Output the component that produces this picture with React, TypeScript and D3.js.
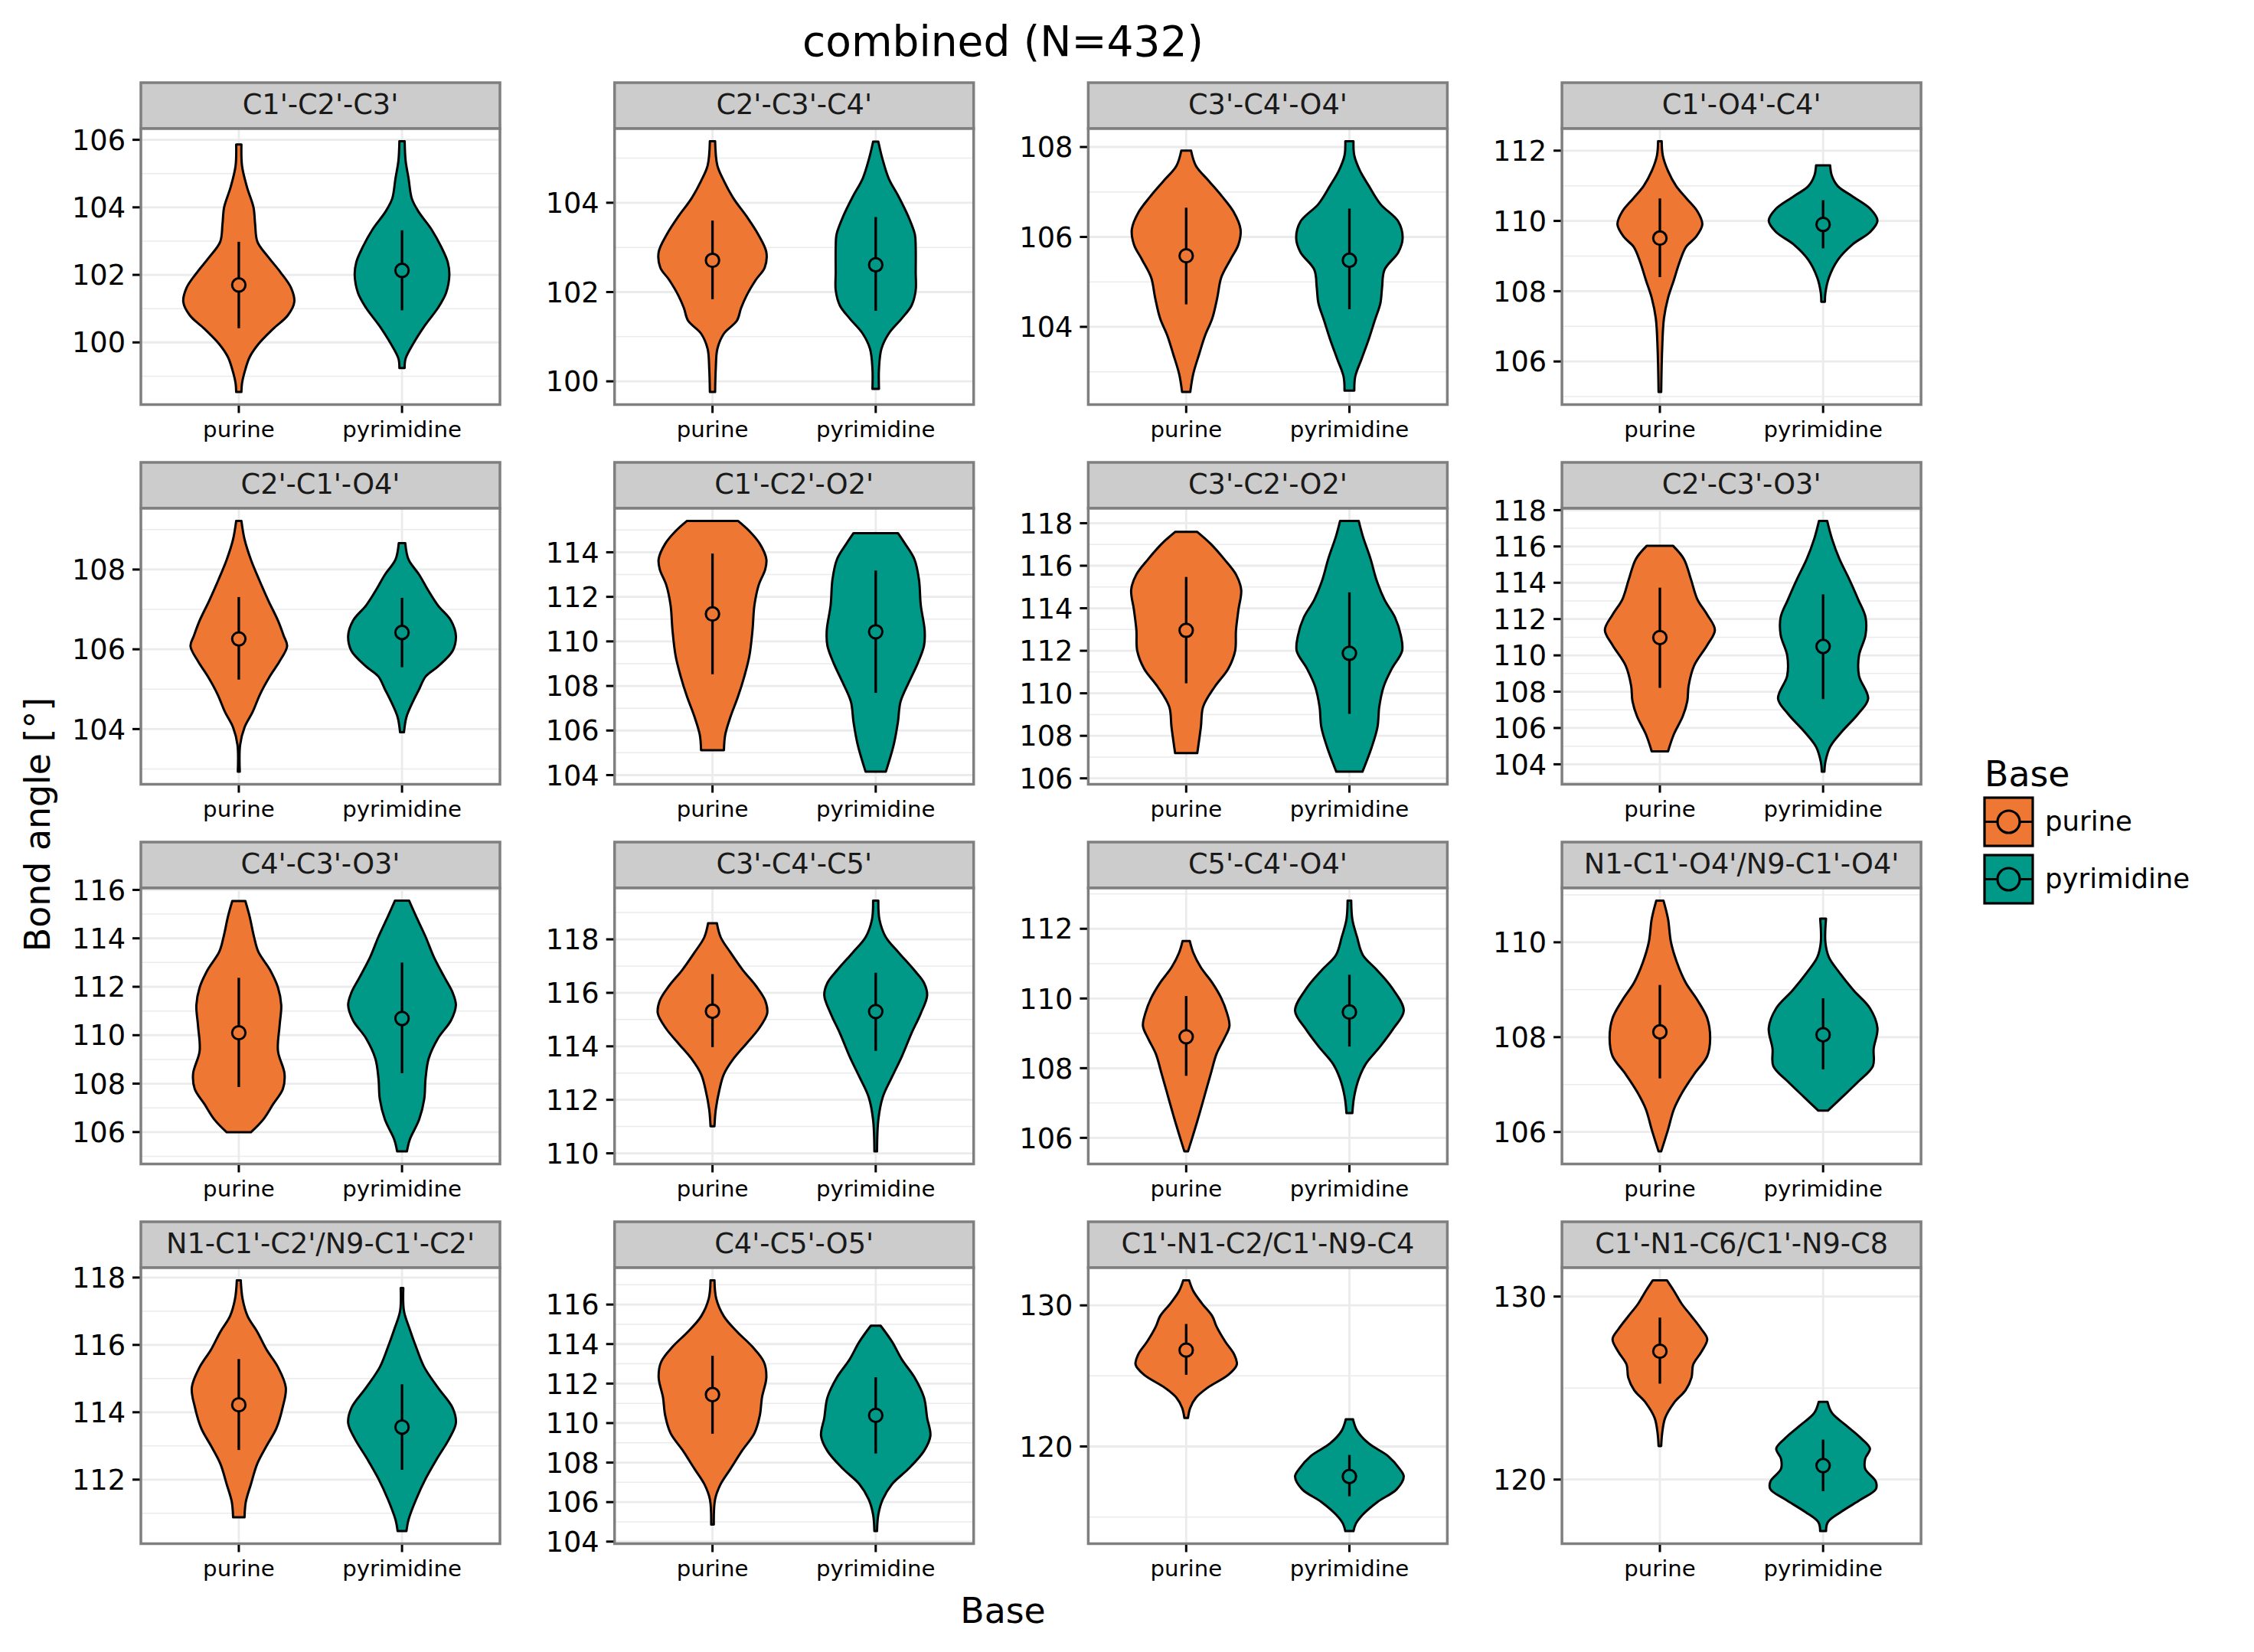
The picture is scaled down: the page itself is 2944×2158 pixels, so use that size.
import * as d3 from 'd3';

// facet titles, row by row
var PANELS = [
  "C1'-C2'-C3'", "C2'-C3'-C4'", "C3'-C4'-O4'", "C1'-O4'-C4'",
  "C2'-C1'-O4'", "C1'-C2'-O2'", "C3'-C2'-O2'", "C2'-C3'-O3'",
  "C4'-C3'-O3'", "C3'-C4'-C5'", "C5'-C4'-O4'", "N1-C1'-O4'/N9-C1'-O4'",
  "N1-C1'-C2'/N9-C1'-C2'", "C4'-C5'-O5'", "C1'-N1-C2/C1'-N9-C4", "C1'-N1-C6/C1'-N9-C8"
];

var BASES = ['purine', 'pyrimidine'];
var COLORS = ['#EE7733', '#009988'];

var TICKS = [
  [100, 102, 104, 106], [100, 102, 104], [104, 106, 108], [106, 108, 110, 112],
  [104, 106, 108], [104, 106, 108, 110, 112, 114], [106, 108, 110, 112, 114, 116, 118], [104, 106, 108, 110, 112, 114, 116, 118],
  [106, 108, 110, 112, 114, 116], [110, 112, 114, 116, 118], [106, 108, 110, 112], [106, 108, 110],
  [112, 114, 116, 118], [104, 106, 108, 110, 112, 114, 116], [120, 130], [120, 130]
];

// violin outlines: [angle, half width as a fraction of the category step]
var PURINE_VIOLINS = [
  [[105.86, .016], [105.22, .02], [104.6, .05], [104.0, .09], [103.5, .10], [102.98, .114], [102.53, .18], [102.08, .255], [101.62, .32], [101.2, .34], [100.8, .30], [100.4, .21], [99.95, .12], [99.57, .067], [99.2, .04], [98.8, .02], [98.53, .016]],
  [[105.38, .016], [104.83, .03], [104.49, .07], [104.09, .13], [103.69, .21], [103.29, .28], [102.89, .33], [102.55, .32], [102.27, .265], [101.93, .21], [101.64, .175], [101.36, .15], [101.07, .07], [100.73, .03], [100.28, .02], [99.76, .016]],
  [[107.92, .03], [107.58, .06], [107.24, .14], [106.9, .22], [106.56, .29], [106.17, .333], [105.83, .32], [105.49, .27], [105.1, .215], [104.64, .19], [104.19, .16], [103.8, .115], [103.4, .08], [102.95, .043], [102.55, .025]],
  [[112.27, .011], [111.86, .018], [111.42, .05], [110.99, .10], [110.63, .165], [110.27, .23], [109.9, .26], [109.54, .22], [109.26, .16], [108.82, .12], [108.32, .086], [107.81, .05], [107.23, .025], [106.36, .014], [105.13, .008]],
  [[109.22, .016], [108.76, .035], [108.25, .074], [107.74, .125], [107.23, .18], [106.72, .24], [106.34, .275], [106.08, .296], [105.7, .25], [105.32, .19], [104.87, .13], [104.43, .085], [104.04, .035], [103.6, .008], [102.93, .006]],
  [[115.41, .156], [114.95, .226], [114.38, .29], [113.69, .33], [113.23, .323], [112.55, .284], [111.63, .257], [110.49, .245], [109.35, .226], [108.43, .195], [107.52, .156], [106.61, .11], [105.81, .078], [105.12, .07]],
  [[117.59, .068], [117.03, .15], [116.31, .233], [115.59, .305], [114.87, .337], [113.92, .32], [112.96, .305], [112.0, .30], [111.16, .258], [110.32, .176], [109.37, .104], [108.41, .09], [107.19, .068]],
  [[116.04, .08], [115.31, .147], [114.2, .19], [113.08, .23], [112.24, .29], [111.4, .337], [110.56, .29], [109.44, .21], [108.32, .176], [107.48, .168], [106.64, .14], [105.66, .086], [104.71, .05]],
  [[115.54, .04], [114.91, .066], [114.07, .093], [113.44, .12], [112.71, .19], [111.97, .24], [111.24, .26], [110.4, .25], [109.35, .24], [108.41, .28], [107.78, .27], [107.15, .21], [106.52, .15], [105.99, .074]],
  [[118.6, .027], [118.08, .05], [117.51, .11], [116.84, .187], [116.27, .265], [115.71, .323], [115.23, .335], [114.66, .284], [114.09, .206], [113.53, .128], [112.96, .07], [112.39, .043], [111.63, .02], [111.01, .012]],
  [[111.65, .022], [111.32, .043], [110.89, .09], [110.45, .16], [110.01, .215], [109.58, .25], [109.21, .265], [108.85, .233], [108.41, .186], [107.83, .15], [107.25, .115], [106.67, .08], [106.09, .043], [105.61, .011]],
  [[110.88, .022], [110.49, .05], [110.0, .068], [109.58, .104], [109.15, .158], [108.78, .23], [108.4, .29], [107.97, .308], [107.6, .29], [107.22, .21], [106.85, .14], [106.48, .086], [106.05, .05], [105.59, .008]],
  [[117.92, .012], [117.37, .023], [116.85, .054], [116.39, .113], [115.86, .17], [115.34, .24], [114.73, .288], [114.13, .268], [113.52, .23], [113.0, .17], [112.47, .113], [111.86, .074], [111.34, .043], [110.88, .035]],
  [[117.23, .012], [116.3, .023], [115.4, .07], [114.63, .15], [113.86, .245], [113.09, .315], [112.32, .33], [111.29, .303], [110.39, .29], [109.49, .257], [108.59, .18], [107.68, .11], [106.91, .05], [106.14, .016], [104.86, .008]],
  [[131.78, .018], [131.03, .043], [130.13, .097], [129.23, .16], [128.5, .186], [127.42, .24], [126.52, .294], [125.8, .31], [125.08, .258], [124.18, .133], [123.46, .06], [122.74, .025], [122.02, .011]],
  [[130.89, .043], [130.31, .086], [129.61, .133], [128.92, .194], [128.22, .254], [127.67, .29], [126.97, .254], [126.28, .204], [125.58, .194], [124.89, .158], [124.19, .086], [123.36, .032], [122.53, .014], [121.83, .008]]
];

var PYRIMIDINE_VIOLINS = [
  [[105.96, .016], [105.38, .022], [104.86, .04], [104.26, .06], [103.88, .10], [103.35, .18], [102.83, .24], [102.38, .28], [102.0, .29], [101.47, .27], [101.02, .22], [100.5, .14], [99.97, .07], [99.52, .022], [99.24, .016]],
  [[105.37, .016], [105.0, .04], [104.54, .08], [104.14, .14], [103.69, .20], [103.29, .24], [103.0, .245], [102.44, .245], [102.04, .245], [101.7, .22], [101.41, .16], [101.07, .08], [100.73, .035], [100.28, .02], [99.83, .02]],
  [[108.13, .025], [107.81, .03], [107.47, .065], [107.13, .12], [106.73, .19], [106.34, .30], [105.97, .326], [105.66, .30], [105.27, .215], [104.87, .20], [104.53, .19], [104.14, .155], [103.74, .12], [103.29, .075], [102.9, .036], [102.58, .03]],
  [[111.58, .043], [111.28, .054], [110.99, .09], [110.7, .18], [110.34, .29], [110.01, .333], [109.69, .29], [109.33, .18], [108.89, .09], [108.39, .036], [107.95, .014], [107.7, .011]],
  [[108.66, .02], [108.25, .04], [107.87, .105], [107.48, .16], [107.1, .22], [106.72, .30], [106.34, .33], [105.96, .31], [105.57, .22], [105.32, .145], [105.0, .105], [104.68, .066], [104.3, .027], [103.92, .012]],
  [[114.86, .136], [114.38, .18], [113.69, .237], [112.78, .265], [111.63, .276], [110.49, .30], [109.81, .296], [109.01, .257], [108.21, .206], [107.29, .152], [106.38, .136], [105.35, .11], [104.15, .062]],
  [[118.11, .057], [117.39, .082], [116.31, .13], [115.35, .165], [114.4, .215], [113.56, .28], [112.72, .315], [112.0, .323], [111.16, .26], [110.32, .21], [109.37, .183], [108.41, .172], [107.45, .136], [106.31, .08]],
  [[117.41, .025], [116.43, .054], [115.31, .10], [114.2, .16], [113.08, .215], [112.1, .26], [111.12, .26], [110.0, .22], [108.88, .22], [107.62, .276], [106.78, .215], [105.8, .115], [104.96, .043], [104.13, .014], [103.59, .008]],
  [[115.56, .043], [114.91, .086], [114.07, .144], [113.23, .195], [112.39, .26], [111.76, .31], [111.24, .33], [110.61, .30], [109.87, .22], [109.03, .163], [108.19, .144], [107.36, .136], [106.52, .105], [105.68, .047], [105.2, .03]],
  [[119.45, .016], [118.74, .023], [118.08, .062], [117.51, .14], [116.84, .237], [116.37, .296], [115.9, .315], [115.23, .276], [114.47, .218], [113.62, .16], [112.86, .10], [112.1, .043], [111.25, .016], [110.07, .008]],
  [[112.81, .011], [112.27, .018], [111.76, .047], [111.25, .082], [110.81, .17], [110.31, .26], [109.65, .333], [109.14, .27], [108.63, .19], [108.12, .10], [107.69, .057], [107.18, .029], [106.71, .018]],
  [[110.5, .018], [110.0, .014], [109.68, .036], [109.36, .10], [108.99, .186], [108.61, .287], [108.19, .333], [107.76, .31], [107.39, .305], [107.06, .215], [106.74, .118], [106.45, .029]],
  [[117.69, .008], [117.0, .012], [116.47, .047], [115.94, .086], [115.34, .136], [114.73, .22], [114.13, .31], [113.68, .33], [113.22, .29], [112.62, .214], [112.02, .144], [111.41, .086], [110.81, .04], [110.47, .027]],
  [[114.93, .03], [114.12, .10], [113.22, .16], [112.32, .237], [111.29, .296], [110.26, .315], [109.36, .335], [108.59, .296], [107.68, .2], [106.91, .10], [106.14, .043], [105.37, .016], [104.53, .008]],
  [[121.93, .022], [121.12, .047], [120.22, .118], [119.32, .237], [118.41, .308], [117.87, .333], [116.97, .29], [116.07, .172], [115.17, .082], [114.54, .04], [114.0, .025]],
  [[124.24, .027], [123.64, .054], [122.94, .143], [122.25, .233], [121.69, .287], [121.14, .258], [120.58, .258], [119.89, .323], [119.47, .323], [118.92, .233], [118.22, .108], [117.67, .029], [117.18, .018]]
];

// point ranges: [centre, low, high]
var PURINE_STATS = [
  [101.70, 100.42, 102.98], [102.71, 101.84, 103.6], [105.58, 104.5, 106.65], [109.51, 108.4, 110.64],
  [106.26, 105.24, 107.31], [111.23, 108.53, 113.95], [112.96, 110.47, 115.47], [110.98, 108.21, 113.73],
  [110.1, 107.86, 112.37], [115.31, 113.97, 116.7], [108.9, 107.78, 110.07], [108.11, 107.13, 109.1],
  [114.22, 112.88, 115.58], [111.44, 109.46, 113.41], [126.83, 125.08, 128.68], [127.01, 125.24, 128.85]
];

var PYRIMIDINE_STATS = [
  [102.13, 100.95, 103.32], [102.61, 101.58, 103.68], [105.48, 104.39, 106.63], [109.9, 109.22, 110.59],
  [106.42, 105.55, 107.29], [110.43, 107.69, 113.18], [111.88, 109.03, 114.75], [110.49, 107.59, 113.36],
  [110.69, 108.43, 113.0], [115.3, 113.83, 116.75], [109.61, 108.62, 110.68], [108.05, 107.32, 108.82],
  [113.56, 112.29, 114.83], [110.39, 108.46, 112.32], [117.87, 116.47, 119.4], [120.76, 119.36, 122.18]
];

var W = 2944, H = 2158;
var FONT = 'DejaVu Sans, Verdana, sans-serif';
var PANEL_LEFT = 184, PANEL_W = 469, COL_STEP = 618.7;
var PANEL_TOP = 168, PANEL_H = 360.5, ROW_STEP = 496;
var STRIP_H = 60;

function Panel(props) {
  var i = props.index;
  var col = i % 4, row = Math.floor(i / 4);
  var left = PANEL_LEFT + col * COL_STEP;
  var top = PANEL_TOP + row * ROW_STEP;
  var bottom = top + PANEL_H;

  var violins = [PURINE_VIOLINS[i], PYRIMIDINE_VIOLINS[i]];
  var stats = [PURINE_STATS[i], PYRIMIDINE_STATS[i]];

  var all = violins[0].concat(violins[1]).map(function (d) { return d[0]; });
  var lo = d3.min(all), hi = d3.max(all);
  var pad = (hi - lo) * 0.05;

  var y = d3.scaleLinear().domain([lo - pad, hi + pad]).range([bottom, top]);
  var x = d3.scalePoint().domain(BASES).range([left, left + PANEL_W]).padding(0.6);
  var step = x.step();

  var ticks = TICKS[i];
  var half = (ticks.length > 1 ? ticks[1] - ticks[0] : 2) / 2;
  var minor = [ticks[0] - half].concat(ticks.map(function (t) { return t + half; }))
    .filter(function (v) { return v > y.domain()[0] && v < y.domain()[1]; });

  return (
    <g>
      {/* strip */}
      <rect x={left} y={top - STRIP_H} width={PANEL_W} height={STRIP_H} fill="#CCCCCC" stroke="#7F7F7F" strokeWidth={3.5} />
      <text x={left + PANEL_W / 2} y={top - STRIP_H + 41} textAnchor="middle" fontSize={36.7} fill="#1A1A1A">{PANELS[i]}</text>

      <rect x={left} y={top} width={PANEL_W} height={PANEL_H} fill="#FFFFFF" />
      {minor.map(function (v) {
        return <line key={'m' + v} x1={left} x2={left + PANEL_W} y1={y(v)} y2={y(v)} stroke="#EBEBEB" strokeWidth={1.5} />;
      })}
      {ticks.map(function (v) {
        return <line key={'g' + v} x1={left} x2={left + PANEL_W} y1={y(v)} y2={y(v)} stroke="#EBEBEB" strokeWidth={2.8} />;
      })}
      {BASES.map(function (b) {
        return <line key={'v' + b} x1={x(b)} x2={x(b)} y1={top} y2={bottom} stroke="#EBEBEB" strokeWidth={2.8} />;
      })}

      {BASES.map(function (b, k) {
        var cx = x(b);
        var area = d3.area()
          .y(function (d) { return y(d[0]); })
          .x0(function (d) { return cx - d[1] * step; })
          .x1(function (d) { return cx + d[1] * step; })
          .curve(d3.curveCatmullRom);
        var s = stats[k];
        return (
          <g key={b}>
            <path d={area(violins[k])} fill={COLORS[k]} stroke="#000" strokeWidth={3} strokeLinejoin="round" />
            <line x1={cx} x2={cx} y1={y(s[1])} y2={y(s[2])} stroke="#000" strokeWidth={3.3} />
            <circle cx={cx} cy={y(s[0])} r={8.7} fill={COLORS[k]} stroke="#000" strokeWidth={3} />
          </g>
        );
      })}

      <rect x={left} y={top} width={PANEL_W} height={PANEL_H} fill="none" stroke="#7F7F7F" strokeWidth={3.5} />

      {ticks.map(function (v) {
        return (
          <g key={'t' + v}>
            <line x1={left - 11} x2={left - 1.5} y1={y(v)} y2={y(v)} stroke="#000" strokeWidth={3} />
            <text x={left - 20} y={y(v)} dy="0.36em" textAnchor="end" fontSize={36.7} fill="#000">{v}</text>
          </g>
        );
      })}
      {BASES.map(function (b) {
        return (
          <g key={'x' + b}>
            <line x1={x(b)} x2={x(b)} y1={bottom + 1.5} y2={bottom + 11} stroke="#000" strokeWidth={3} />
            <text x={x(b)} y={bottom + 42} textAnchor="middle" fontSize={29.2} fill="#000">{b}</text>
          </g>
        );
      })}
    </g>
  );
}

export default function App() {
  return (
    <svg width={W} height={H} style={{ position: 'absolute', left: 0, top: 0, background: '#fff' }} fontFamily={FONT}>
      <rect width={W} height={H} fill="#fff" />
      <text x={1310} y={73} textAnchor="middle" fontSize={55}>combined (N=432)</text>
      {PANELS.map(function (p, i) { return <Panel key={p} index={i} />; })}
      <text x={1310} y={2120} textAnchor="middle" fontSize={45.8}>Base</text>
      <text transform="translate(65,1077) rotate(-90)" textAnchor="middle" fontSize={45.8}>Bond angle [°]</text>

      {/* legend */}
      <text x={2592} y={1027} fontSize={45.8}>Base</text>
      {BASES.map(function (b, k) {
        var ky = 1042 + k * 75;
        return (
          <g key={'lg' + b}>
            <rect x={2592} y={ky} width={63} height={63} fill={COLORS[k]} stroke="#000" strokeWidth={3.2} />
            <line x1={2592} x2={2655} y1={ky + 31.5} y2={ky + 31.5} stroke="#000" strokeWidth={3.2} />
            <circle cx={2623.5} cy={ky + 31.5} r={14.5} fill={COLORS[k]} stroke="#000" strokeWidth={3.2} />
            <text x={2671} y={ky + 43} fontSize={35.5}>{b}</text>
          </g>
        );
      })}
    </svg>
  );
}
